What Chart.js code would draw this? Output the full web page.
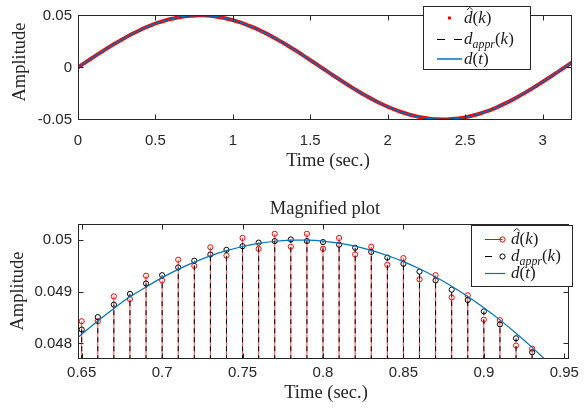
<!DOCTYPE html>
<html>
<head>
<meta charset="utf-8">
<script src="https://cdn.jsdelivr.net/npm/chart.js@4.4.1/dist/chart.umd.min.js"></script>
<style>
html,body{margin:0;padding:0;background:#fff;width:584px;height:408px;overflow:hidden}
#c1{position:absolute;left:0;top:0}
#c2{position:absolute;left:0;top:180px}
</style>
</head>
<body>
<canvas id="c1" width="584" height="180"></canvas>
<canvas id="c2" width="584" height="228"></canvas>
<script>
// ---------- data ----------
// Top panel: time (s) and amplitude
const topTime = [0,0.04,0.08,0.12,0.16,0.2,0.24,0.28,0.32,0.36,0.4,0.44,0.48,0.52,0.56,0.6,0.64,0.68,0.72,0.76,
  0.8,0.84,0.88,0.92,0.96,1,1.04,1.08,1.12,1.16,1.2,1.24,1.28,1.32,1.36,1.4,1.44,1.48,1.52,1.56,
  1.6,1.64,1.68,1.72,1.76,1.8,1.84,1.88,1.92,1.96,2,2.04,2.08,2.12,2.16,2.2,2.24,2.28,2.32,2.36,
  2.4,2.44,2.48,2.52,2.56,2.6,2.64,2.68,2.72,2.76,2.8,2.84,2.88,2.92,2.96,3,3.04,3.08,3.12,3.16,3.2];
const topAmplitude = [0,0.004,0.00797,0.01189,0.01573,0.01947,0.02309,0.02656,0.02986,0.03297,
  0.03587,0.03854,0.04096,0.04312,0.045,0.0466,0.0479,0.0489,0.04957,0.04994,
  0.04998,0.0497,0.04911,0.0482,0.04698,0.04546,0.04365,0.04157,0.03922,0.03662,
  0.03377,0.03071,0.02747,0.02404,0.02046,0.01675,0.01293,0.00903,0.00507,0.00108,
  -0.00292,-0.0069,-0.01083,-0.0147,-0.01847,-0.02213,-0.02564,-0.02899,-0.03215,-0.03511,
  -0.03784,-0.04032,-0.04256,-0.04453,-0.0462,-0.04758,-0.04866,-0.04942,-0.04987,-0.05,
  -0.04981,-0.04929,-0.04847,-0.04734,-0.04592,-0.04417,-0.04217,-0.03991,-0.03735,-0.03454,
  -0.03156,-0.02836,-0.02502,-0.02147,-0.01776,-0.01397,-0.01009,-0.00614,-0.00216,0.00184,0.00583];
const topXTicks = [0,0.5,1,1.5,2,2.5,3];
const topXLabels = ['0','0.5','1','1.5','2','2.5','3'];
const topYTicks = [-0.05,0,0.05];
const topYLabels = ['-0.05','0','0.05'];

// Bottom panel (magnified): sample instants, estimated samples, approximated samples
const magTime = [0.65,0.66,0.67,0.68,0.69,0.7,0.71,0.72,0.73,0.74,0.75,0.76,0.77,0.78,0.79,
  0.8,0.81,0.82,0.83,0.84,0.85,0.86,0.87,0.88,0.89,0.9,0.91,0.92,0.93];
const magHat = [0.04843,0.04843,0.04891,0.04886,0.04931,0.04922,0.04962,0.0495,0.04986,0.0497,
  0.05004,0.04983,0.05012,0.04987,0.05012,0.04983,0.05004,0.04972,0.04987,0.04952,
  0.04965,0.04924,0.04932,0.04889,0.04893,0.04846,0.04845,0.04796,0.0479];
const magAppr = [0.04827,0.04851,0.04875,0.04896,0.04916,0.04932,0.04947,0.0496,0.04972,0.04981,
  0.04988,0.04995,0.04998,0.05001,0.04998,0.04996,0.04991,0.04985,0.04977,0.04966,
  0.04954,0.04939,0.04922,0.04904,0.04884,0.04862,0.04837,0.0481,0.04783];
const curveTime = [0.64,0.65,0.66,0.67,0.68,0.69,0.7,0.71,0.72,0.73,0.74,0.75,0.76,0.77,0.78,0.79,
  0.8,0.81,0.82,0.83,0.84,0.85,0.86,0.87,0.88,0.89,0.9,0.91,0.92,0.93,0.94,0.95,0.96];
const curveValue = [0.0479,0.048178,0.048436,0.048678,0.048902,0.049093,0.049273,0.049433,0.049573,
  0.049694,0.049794,0.049875,0.049935,0.049976,0.049997,0.049998,0.049979,0.04994,0.049881,
  0.049801,0.049702,0.049583,0.049444,0.049286,0.049108,0.04891,0.048692,0.048456,0.048199,
  0.047924,0.04763,0.047315,0.04698];
const stemBase = 0;
const magXTicks = [0.65,0.7,0.75,0.8,0.85,0.9,0.95];
const magXLabels = ['0.65','0.7','0.75','0.8','0.85','0.9','0.95'];
const magYTicks = [0.048,0.049,0.05];
const magYLabels = ['0.048','0.049','0.05'];

// ---------- styling ----------
const AX = '#262626';
const SERIF = '"Liberation Serif","Times New Roman",serif';
const SANS = '"Liberation Sans",Arial,sans-serif';
const BLUE = '#0072BD';

function pts(xs, ys) { return xs.map((x, i) => ({x: x, y: ys[i]})); }
function stems(xs, ys) {
  const out = [];
  xs.forEach((x, i) => { out.push({x: x, y: stemBase}); out.push({x: x, y: ys[i]}); out.push({x: x, y: null}); });
  return out;
}

function drawMath(ctx, x, yBase, items, size) {
  let cx = x;
  ctx.textAlign = 'left';
  ctx.textBaseline = 'alphabetic';
  for (const it of items) {
    const fs = it.sub ? size * 0.7 : size;
    ctx.font = (it.it ? 'italic ' : '') + fs + 'px ' + SERIF;
    const yy = yBase + (it.sub ? size * 0.22 : 0);
    ctx.fillText(it.t, cx, yy);
    const w = ctx.measureText(it.t).width;
    if (it.hat) {
      const hx = cx + w * 0.68;
      ctx.beginPath();
      ctx.moveTo(hx - 3, yBase - size * 0.76);
      ctx.lineTo(hx, yBase - size * 0.92);
      ctx.lineTo(hx + 3, yBase - size * 0.76);
      ctx.lineWidth = 0.9;
      ctx.stroke();
    }
    cx += w + (it.gap || 0);
  }
}
const LBL_HAT = [{t:'d', it:true, hat:true}, {t:'('}, {t:'k', it:true}, {t:')'}];
const LBL_APPR = [{t:'d', it:true}, {t:'appr', it:true, sub:true}, {t:'('}, {t:'k', it:true}, {t:')'}];
const LBL_TRUE = [{t:'d', it:true}, {t:'('}, {t:'t', it:true}, {t:')'}];

function framePlugin() {
  return {
    id: 'frame',
    afterDatasetsDraw(chart) {
      const {ctx, chartArea: a, scales: {x, y}} = chart;
      ctx.save();
      ctx.strokeStyle = AX; ctx.lineWidth = 1;
      const L = Math.round(a.left) + 0.5, R = Math.round(a.right) - 0.5;
      const T = Math.round(a.top) + 0.5, B = Math.round(a.bottom) - 0.5;
      ctx.strokeRect(L, T, R - L, B - T);
      ctx.beginPath();
      x.ticks.forEach(t => {
        const p = Math.round(x.getPixelForValue(t.value)) + 0.5;
        ctx.moveTo(p, B); ctx.lineTo(p, B - 5);
        ctx.moveTo(p, T); ctx.lineTo(p, T + 5);
      });
      y.ticks.forEach(t => {
        const p = Math.round(y.getPixelForValue(t.value)) + 0.5;
        ctx.moveTo(L, p); ctx.lineTo(L + 5, p);
        ctx.moveTo(R, p); ctx.lineTo(R - 5, p);
      });
      ctx.stroke();
      ctx.restore();
    }
  };
}

function textPlugin(spec) {
  return {
    id: 'texts',
    afterDraw(chart) {
      const ctx = chart.ctx;
      ctx.save();
      ctx.fillStyle = AX;
      ctx.font = spec.titleSize + 'px ' + SERIF;
      ctx.textAlign = 'center';
      ctx.textBaseline = 'alphabetic';
      if (spec.title) ctx.fillText(spec.title.text, spec.title.x, spec.title.y);
      ctx.fillText('Time (sec.)', spec.xlab.x, spec.xlab.y);
      ctx.translate(spec.ylab.x, spec.ylab.y);
      ctx.rotate(-Math.PI / 2);
      ctx.textBaseline = 'middle';
      ctx.fillText('Amplitude', 0, 0);
      ctx.restore();

      // legend
      const lg = spec.legend;
      ctx.save();
      ctx.fillStyle = '#fff';
      ctx.fillRect(lg.x, lg.y, lg.w, lg.h);
      ctx.strokeStyle = AX; ctx.lineWidth = 1;
      ctx.strokeRect(lg.x + 0.5, lg.y + 0.5, lg.w, lg.h);
      lg.rows.forEach((row, i) => {
        const yy = lg.rowY[i];
        ctx.save();
        row.sample(ctx, lg.sx0, lg.sx1, yy);
        ctx.restore();
        ctx.fillStyle = '#1a1a1a'; ctx.strokeStyle = '#1a1a1a';
        drawMath(ctx, lg.tx, yy + 5, row.label, 17);
      });
      ctx.restore();
    }
  };
}

function baseScales(o) {
  return {
    x: {
      type: 'linear', min: o.xmin, max: o.xmax,
      grid: {display: false, drawTicks: false}, border: {display: false},
      afterFit(s) { s.height = o.xh; },
      afterBuildTicks(s) { s.ticks = o.xt.map(v => ({value: v})); },
      ticks: {padding: o.xpad, color: AX, font: {family: SANS, size: 15}, autoSkip: false, maxRotation: 0,
        includeBounds: false, callback: (v, i) => o.xl[i]}
    },
    y: {
      type: 'linear', min: o.ymin, max: o.ymax,
      grid: {display: false, drawTicks: false}, border: {display: false},
      afterFit(s) { s.width = 78; },
      afterBuildTicks(s) { s.ticks = o.yt.map(v => ({value: v})); },
      ticks: {padding: 6, color: AX, font: {family: SANS, size: 15}, autoSkip: false,
        includeBounds: false, callback: (v, i) => o.yl[i]}
    }
  };
}

const common = {
  responsive: false, animation: false, devicePixelRatio: 1, events: [],
  plugins: {legend: {display: false}, tooltip: {enabled: false}, title: {display: false}}
};

// ---------- top chart ----------
new Chart(document.getElementById('c1'), {
  type: 'line',
  data: {
    datasets: [
      {data: pts(topTime, topAmplitude), borderColor: BLUE, borderWidth: 1.5, pointRadius: 0, tension: 0.3, clip: 0},
      {data: pts(topTime, topAmplitude), borderColor: '#000', borderWidth: 1, borderDash: [6, 4], pointRadius: 0, tension: 0.3, clip: 0},
      {data: pts(topTime, topAmplitude), borderColor: '#ff0000', borderWidth: 3.8, tension: 0.3, clip: 0,
        pointStyle: 'rect', pointRadius: 1.9, pointBackgroundColor: '#ff0000', pointBorderWidth: 0}
    ]
  },
  options: Object.assign({}, common, {
    layout: {padding: {top: 4, left: 0, right: 12, bottom: 0}},
    scales: baseScales({xmin: 0, xmax: 3.19, ymin: -0.0506, ymax: 0.0504, xh: 60, xpad: 12,
      xt: topXTicks, xl: topXLabels, yt: topYTicks, yl: topYLabels})
  }),
  plugins: [framePlugin(), textPlugin({
    titleSize: 18.5,
    xlab: {x: 328, y: 166},
    ylab: {x: 20, y: 62},
    legend: {x: 423, y: 6, w: 107, h: 63, sx0: 437, sx1: 462, tx: 464, rowY: [18, 39, 59],
      rows: [
        {label: LBL_HAT, sample(ctx, a, b, y) { ctx.fillStyle = '#ff0000'; ctx.fillRect((a + b) / 2 - 1.5, y - 1.5, 3, 3); }},
        {label: LBL_APPR, sample(ctx, a, b, y) { ctx.strokeStyle = '#000'; ctx.lineWidth = 1; ctx.setLineDash([8, 9]); ctx.beginPath(); ctx.moveTo(a, y + 0.5); ctx.lineTo(b, y + 0.5); ctx.stroke(); }},
        {label: LBL_TRUE, sample(ctx, a, b, y) { ctx.strokeStyle = BLUE; ctx.lineWidth = 1.5; ctx.beginPath(); ctx.moveTo(a, y); ctx.lineTo(b, y); ctx.stroke(); }}
      ]}
  })]
});

// ---------- bottom chart ----------
const circ = ctx => (ctx.dataIndex % 3 === 1 ? 2.6 : 0);
new Chart(document.getElementById('c2'), {
  type: 'line',
  data: {
    datasets: [
      {data: pts(curveTime, curveValue), borderColor: BLUE, borderWidth: 1.2, pointRadius: 0, tension: 0.3, clip: 0},
      {data: stems(magTime, magAppr), borderColor: '#000', borderWidth: 1, borderDash: [5, 4], spanGaps: false, clip: 0,
        pointRadius: circ, pointBorderColor: '#000', pointBackgroundColor: 'rgba(0,0,0,0)', pointBorderWidth: 1},
      {data: stems(magTime, magHat), borderColor: '#ff4040', borderWidth: 1, spanGaps: false, clip: 0,
        pointRadius: circ, pointBorderColor: '#ff0000', pointBackgroundColor: 'rgba(0,0,0,0)', pointBorderWidth: 1}
    ]
  },
  options: Object.assign({}, common, {
    layout: {padding: {top: 44, left: 0, right: 12, bottom: 0}},
    scales: baseScales({xmin: 0.6477, xmax: 0.9527, ymin: 0.0477, ymax: 0.05031, xh: 49, xpad: 5,
      xt: magXTicks, xl: magXLabels, yt: magYTicks, yl: magYLabels})
  }),
  plugins: [framePlugin(), textPlugin({
    titleSize: 18.5,
    title: {text: 'Magnified plot', x: 325, y: 34},
    xlab: {x: 326, y: 218},
    ylab: {x: 18, y: 111},
    legend: {x: 471, y: 45, w: 101, h: 61, sx0: 485, sx1: 505, tx: 511, rowY: [59, 76, 93],
      rows: [
        {label: LBL_HAT, sample(ctx, a, b, y) { ctx.strokeStyle = '#ff0000'; ctx.lineWidth = 1; ctx.beginPath(); ctx.moveTo(a, y + 0.5); ctx.lineTo(b - 2.5, y + 0.5); ctx.stroke(); ctx.beginPath(); ctx.arc(b - 2.5, y + 0.5, 2.6, 0, Math.PI * 2); ctx.stroke(); }},
        {label: LBL_APPR, sample(ctx, a, b, y) { ctx.strokeStyle = '#000'; ctx.lineWidth = 1; ctx.beginPath(); ctx.moveTo(a, y + 0.5); ctx.lineTo(a + 7, y + 0.5); ctx.stroke(); ctx.beginPath(); ctx.arc(b - 2.5, y + 0.5, 2.6, 0, Math.PI * 2); ctx.stroke(); }},
        {label: LBL_TRUE, sample(ctx, a, b, y) { ctx.strokeStyle = BLUE; ctx.lineWidth = 1.2; ctx.beginPath(); ctx.moveTo(a, y + 0.5); ctx.lineTo(b, y + 0.5); ctx.stroke(); }}
      ]}
  })]
});
</script>
</body>
</html>
